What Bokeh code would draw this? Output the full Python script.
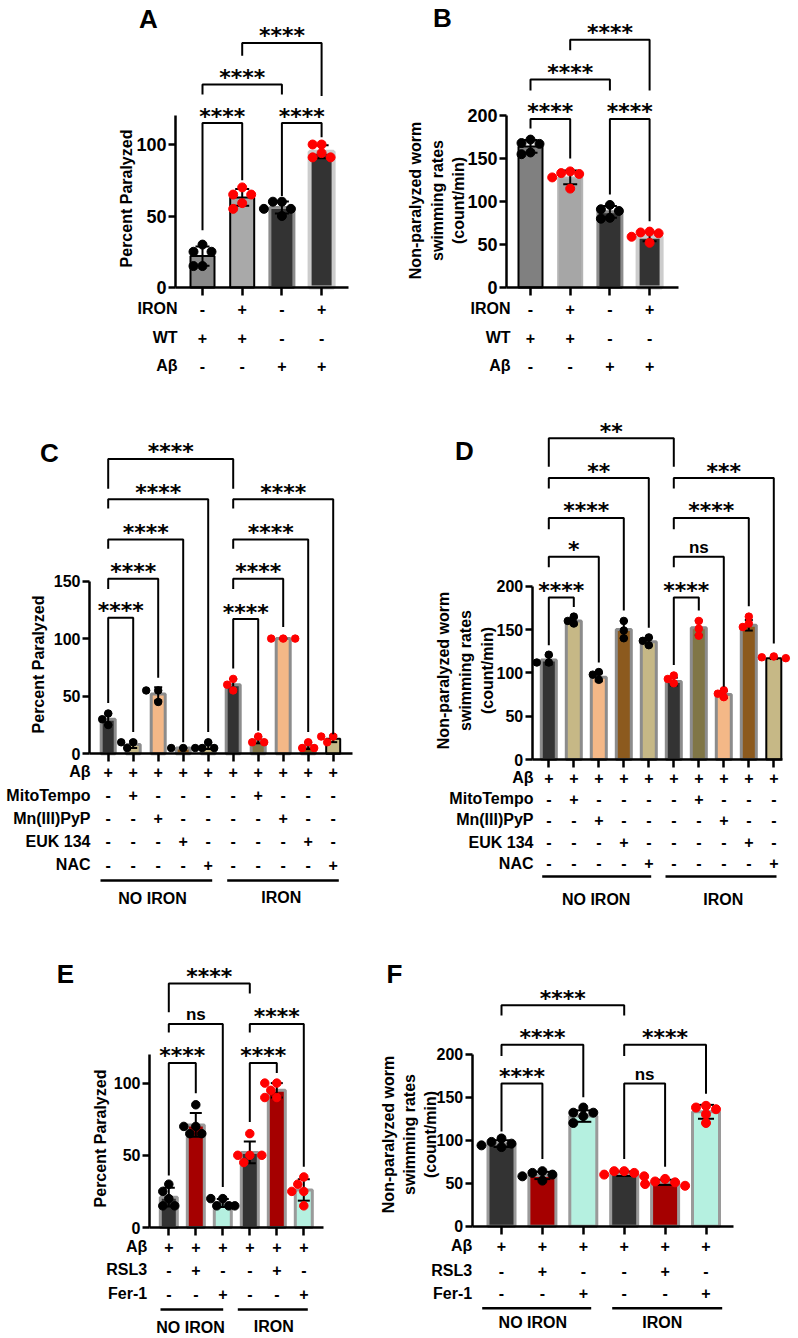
import numpy as np
from bokeh.plotting import figure
from bokeh.models import Range1d, LinearAxis, FixedTicker
from bokeh.layouts import column, row
from bokeh.embed import file_html
from bokeh.resources import INLINE
from bokeh.core.properties import value

FONT = "Liberation Sans"
STAR_FONT = "DejaVu Sans"

# ===================== DATA =====================
# Panel A - Percent Paralyzed
A_means = [22, 63, 56, 95]
A_points = [[30, 25, 25, 15, 15], [70, 65, 65, 59, 55], [60, 60, 55, 55, 50], [100, 100, 94, 91, 91]]
A_dot_colors = ["black", "red", "black", "red"]
A_rows = ["IRON", "WT", "Aβ"]
A_signs = [["-", "+", "-", "+"], ["+", "+", "-", "-"], ["-", "-", "+", "+"]]
A_brackets = [(0, 1, 115, 40, 75, "****"), (2, 3, 115, 64, 105, "****"),
              (0, 2, 142, 135, 135, "****"), (1, 3, 171, 162, 134, "****")]
A_yticks = [0, 50, 100]
A_ylabel = ["Percent Paralyzed"]

# Panel B - swimming rates
B_means = [164, 128, 88, 59]
B_points = [[172, 168, 167, 157, 155], [135, 133, 132, 128, 115], [96, 91, 89, 81, 80], [65, 64, 63, 59, 52]]
B_dot_colors = ["black", "red", "black", "red"]
B_rows = ["IRON", "WT", "Aβ"]
B_signs = [["-", "+", "-", "+"], ["+", "+", "-", "-"], ["-", "-", "+", "+"]]
B_brackets = [(0, 1, 196, 185, 150, "****"), (2, 3, 196, 108, 77, "****"),
              (0, 2, 242, 229, 229, "****"), (1, 3, 288, 276, 229, "****")]
B_yticks = [0, 50, 100, 150, 200]
B_ylabel = ["Non-paralyzed worm", "swimming rates", "(count/min)"]

# Panel C - Percent Paralyzed, antioxidants
C_means = [30, 8, 52, 5, 7, 60, 12, 100, 7, 13]
C_points = [[35, 30, 25], [10, 10, 5], [55, 55, 45], [5, 5, 5], [10, 5, 5],
            [65, 60, 55], [15, 10, 10], [100, 100, 100], [10, 5, 5], [15, 15, 10]]
C_dot_colors = ["black"] * 5 + ["red"] * 5
C_rows = ["Aβ", "MitoTempo", "Mn(III)PyP", "EUK 134", "NAC"]
C_signs = [["+"] * 10,
           ["-", "+", "-", "-", "-", "-", "+", "-", "-", "-"],
           ["-", "-", "+", "-", "-", "-", "-", "+", "-", "-"],
           ["-", "-", "-", "+", "-", "-", "-", "-", "+", "-"],
           ["-", "-", "-", "-", "+", "-", "-", "-", "-", "+"]]
C_brackets = [(0, 1, 118, 44, 19, "****"), (0, 2, 152, 143, 66, "****"), (0, 3, 186, 178, 10, "****"),
              (0, 4, 221, 213, 19, "****"), (0, 5, 256, 230, 230, "****"),
              (5, 6, 117, 74, 20, "****"), (5, 7, 152, 143, 110, "****"), (5, 8, 186, 178, 19, "****"),
              (5, 9, 221, 213, 17, "****")]
C_yticks = [0, 50, 100, 150]
C_groups = ["NO IRON", "IRON"]
C_ylabel = ["Percent Paralyzed"]

# Panel D - swimming rates, antioxidants
D_means = [115, 160, 95, 150, 136, 90, 152, 75, 155, 117]
D_points = [[121, 112, 112], [165, 160, 157], [101, 98, 92], [160, 149, 140], [141, 137, 132],
            [97, 93, 88], [160, 151, 143], [80, 76, 72], [165, 157, 153], [119, 118, 117]]
D_dot_colors = ["black"] * 5 + ["red"] * 5
D_rows = ["Aβ", "MitoTempo", "Mn(III)PyP", "EUK 134", "NAC"]
D_signs = C_signs
D_brackets = [(0, 1, 187, 132, 176, "****"), (0, 2, 234, 222, 112, "*"), (0, 3, 279, 266, 172, "****"),
              (0, 4, 325, 313, 152, "**"), (0, 5, 371, 338, 338, "**"),
              (5, 6, 187, 109, 172, "****"), (5, 7, 234, 222, 84, "ns"), (5, 8, 279, 266, 177, "****"),
              (5, 9, 325, 313, 134, "***")]
D_yticks = [0, 50, 100, 150, 200]
D_groups = ["NO IRON", "IRON"]
D_ylabel = ["Non-paralyzed worm", "swimming rates", "(count/min)"]

# Panel E - Percent Paralyzed, ferroptosis
E_means = [21, 71, 17, 52, 95, 26]
E_points = [[30, 25, 20, 15, 15], [85, 70, 70, 65, 65], [20, 20, 15, 15, 15],
            [65, 50, 50, 50, 45], [100, 100, 95, 90, 90], [35, 30, 25, 25, 15]]
E_dot_colors = ["black"] * 3 + ["red"] * 3
E_rows = ["Aβ", "RSL3", "Fer-1"]
E_signs = [["+"] * 6, ["-", "+", "-", "-", "+", "-"], ["-", "-", "+", "-", "-", "+"]]
E_brackets = [(0, 1, 114, 36, 93, "****"), (0, 2, 141, 135, 28, "ns"), (0, 3, 169, 149, 162, "****"),
              (3, 4, 114, 73, 107, "****"), (3, 5, 141, 135, 42, "****")]
E_yticks = [0, 50, 100]
E_groups = ["NO IRON", "IRON"]
E_ylabel = ["Percent Paralyzed"]

# Panel F - swimming rates, ferroptosis
F_means = [96, 59, 128, 61, 51, 133]
F_points = [[102, 98, 96, 94, 92], [64, 62, 60, 58, 53], [138, 132, 132, 128, 120],
            [64, 64, 62, 60, 58], [55, 52, 51, 49, 47], [140, 138, 136, 130, 120]]
F_dot_colors = ["black"] * 3 + ["red"] * 3
F_rows = ["Aβ", "RSL3", "Fer-1"]
F_signs = E_signs
F_brackets = [(0, 1, 166, 110, 78, "****"), (0, 2, 211, 198, 150, "****"), (0, 3, 257, 245, 245, "****"),
              (3, 4, 166, 78, 69, "ns"), (3, 5, 211, 198, 154, "****")]
F_yticks = [0, 50, 100, 150, 200]
F_groups = ["NO IRON", "IRON"]
F_ylabel = ["Non-paralyzed worm", "swimming rates", "(count/min)"]

# ===================== STYLES =====================
DARK, KHAKI, OLIVE, ORANGE, BROWN = "#333333", "#C6B886", "#807646", "#F4B887", "#8C5A1E"
DRED, MINT = "#A50000", "#B5F0E0"
GREY = "#8c8c8c"
DOT = {"black": "#000000", "red": "#ff0000"}


def swarm_offsets(vals, ky, d, step):
    placed, offs = [], []
    for v in vals:
        y = v * ky
        c = 0
        for c in (0, -step, step, -2 * step, 2 * step):
            if all((c - px) ** 2 + (y - py) ** 2 >= (0.85 * d) ** 2 for px, py in placed):
                break
        placed.append((c, y))
        offs.append(c)
    return offs


def txt(p, x, y, t, size, align="center", baseline="middle", font=FONT, angle=0.0):
    p.text(x=x, y=y, text=t, text_font=value(font), text_font_style="bold",
           text_font_size=size, text_align=align, text_baseline=baseline,
           text_color="#000000", angle=angle)


def make_panel(cfg, means, points, dot_colors, rows, signs, brackets, yticks, ylabel, groups=None):
    x0, dx, y0, ky = cfg["x0"], cfg["dx"], cfg["y0"], cfg["ky"]
    X = lambda px: (px - x0) / dx
    Y = lambda py: (y0 - py) / ky
    L, T, W, H = cfg["left"], cfg["top"], cfg["w"], cfg["h"]
    p = figure(width=W, height=H, x_range=Range1d(X(L), X(L + W)), y_range=Range1d(Y(T + H), Y(T)),
               x_axis_type=None, y_axis_type=None, toolbar_location=None, output_backend="svg",
               min_border=0, outline_line_color=None, title=None)
    n = len(means)
    xs = list(range(n))

    # bars
    p.vbar(x=xs, top=means, bottom=0, width=cfg["bar_px"] / dx,
           fill_color=cfg["fills"], line_color=cfg["lines"], line_width=cfg["lws"])

    # error bars (mean +/- SD)
    sds = [float(np.std(v, ddof=1)) for v in points]
    lo = [m - s for m, s in zip(means, sds)]
    hi = [m + s for m, s in zip(means, sds)]
    cap = cfg["cap_px"] / dx
    p.segment(x0=xs, y0=lo, x1=xs, y1=hi, line_color="black", line_width=2)
    p.segment(x0=[i - cap for i in xs], y0=hi, x1=[i + cap for i in xs], y1=hi, line_color="black", line_width=2)
    p.segment(x0=[i - cap for i in xs], y0=lo, x1=[i + cap for i in xs], y1=lo, line_color="black", line_width=2)

    # individual points
    px_, py_, pc_ = [], [], []
    for i, vals in enumerate(points):
        sv = sorted(vals, reverse=True)
        offs = swarm_offsets(sv, ky, cfg["dot"], cfg["step"])
        for v, o in zip(sv, offs):
            px_.append(i + o / dx)
            py_.append(v)
            pc_.append(DOT[dot_colors[i]])
    p.scatter(px_, py_, size=cfg["dot"], fill_color=pc_, line_color=pc_, marker="circle")

    # axes
    yax = LinearAxis(fixed_location=X(cfg["axis_x"]), bounds=(0, cfg["ytop"]),
                     ticker=FixedTicker(ticks=yticks),
                     axis_line_width=2.5, axis_line_color="black",
                     major_tick_line_width=2.5, major_tick_out=7, major_tick_in=0,
                     minor_tick_out=0, minor_tick_in=0,
                     major_label_text_font=FONT, major_label_text_font_style="bold",
                     major_label_text_font_size=cfg["tick_font"], major_label_standoff=2,
                     major_label_text_color="black")
    p.add_layout(yax, "left")
    xax = LinearAxis(fixed_location=0, bounds=(X(cfg["axis_x"]), X(cfg["axis_x_end"])),
                     ticker=FixedTicker(ticks=xs),
                     major_label_overrides={i: "" for i in xs},
                     axis_line_width=2.5, axis_line_color="black",
                     major_tick_line_width=2.5, major_tick_out=8, major_tick_in=0,
                     minor_tick_out=0, minor_tick_in=0)
    p.add_layout(xax, "below")

    # significance brackets
    bx = [[i, i, j, j] for (i, j, t, l, r, s) in brackets]
    by = [[l, t, t, r] for (i, j, t, l, r, s) in brackets]
    p.multi_line(bx, by, line_color="black", line_width=2)
    for (i, j, t, l, r, s) in brackets:
        if s.startswith("*"):
            txt(p, [(i + j) / 2], [t + 7 / ky], [s], "22px", baseline="alphabetic", font=STAR_FONT)
        else:
            txt(p, [(i + j) / 2], [t + 9 / ky], [s], "17px", baseline="alphabetic")

    # condition rows
    for r, (label, ry) in enumerate(zip(rows, cfg["row_y"])):
        txt(p, xs, [Y(ry)] * n, signs[r], "16px")
        txt(p, [X(cfg["row_right"])], [Y(ry)], [label], "16px", align="right")

    # groups
    if groups:
        for name, (gx1, gx2, gy, cx, cy) in zip(groups, cfg["groups"]):
            p.segment(x0=[X(gx1)], y0=[Y(gy)], x1=[X(gx2)], y1=[Y(gy)], line_color="black", line_width=2.5)
            txt(p, [X(cx)], [Y(cy)], [name], "16px")

    # y label
    for line, lx in zip(ylabel, cfg["ylabel_x"]):
        txt(p, [X(lx)], [Y(cfg["ylabel_y"])], [line], "16px", angle=np.pi / 2)

    # panel letter
    txt(p, [X(cfg["letter_xy"][0])], [Y(cfg["letter_xy"][1])], [cfg["letter"]], "26px")
    return p


cfgA = dict(left=0, top=0, w=399, h=392, x0=202, dx=39.7, y0=287, ky=1.43,
            axis_x=175, axis_x_end=348, ytop=120, tick_font="18px",
            bar_px=24, dot=9, step=9, cap_px=7,
            fills=["#8a8a8a", "#a9a9a9", DARK, DARK], lines=["#000000", "#000000", GREY, "#cccccc"],
            lws=[2, 2, 3, 4],
            row_y=[308, 337, 365], row_right=177,
            ylabel_x=[126], ylabel_y=198, letter="A", letter_xy=(148, 18))
cfgB = dict(left=399, top=0, w=397, h=392, x0=530, dx=39.7, y0=287, ky=0.86,
            axis_x=506, axis_x_end=678, ytop=200, tick_font="18px",
            bar_px=24, dot=9, step=9, cap_px=7,
            fills=["#808080", "#a6a6a6", DARK, DARK], lines=["#000000", "#b4b4b4", GREY, "#cccccc"],
            lws=[2, 2, 3, 4],
            row_y=[308, 337, 365], row_right=510,
            ylabel_x=[415, 436.7, 458.3], ylabel_y=200, letter="B", letter_xy=(442, 17))
cfgC = dict(left=0, top=392, w=399, h=543, x0=107.7, dx=25, y0=753.3, ky=1.152,
            axis_x=89, axis_x_end=352, ytop=150, tick_font="16px",
            bar_px=14, dot=7.5, step=6, cap_px=4,
            fills=[DARK, KHAKI, ORANGE, BROWN, KHAKI, DARK, OLIVE, ORANGE, BROWN, KHAKI],
            lines=[GREY] * 9 + ["#000000"], lws=[3] * 9 + [2],
            row_y=[771, 794.5, 817.5, 840.5, 864], row_right=90,
            groups=[(100, 211.7, 880, 152, 898.3), (226.7, 338.3, 880, 280.7, 896.7)],
            ylabel_x=[38], ylabel_y=664, letter="C", letter_xy=(49, 452.5))
cfgD = dict(left=399, top=392, w=397, h=543, x0=548.3, dx=25, y0=759, ky=0.866,
            axis_x=531.7, axis_x_end=781.7, ytop=200, tick_font="16px",
            bar_px=15, dot=7.5, step=6, cap_px=4,
            fills=[DARK, KHAKI, ORANGE, BROWN, KHAKI, DARK, OLIVE, ORANGE, BROWN, KHAKI],
            lines=[GREY] * 9 + ["#000000"], lws=[3] * 9 + [2],
            row_y=[777, 798.3, 819.3, 841.7, 862.7], row_right=533,
            groups=[(541.7, 650.7, 876, 595.7, 899), (665, 776, 876, 722.7, 899)],
            ylabel_x=[443, 465, 487], ylabel_y=670, letter="D", letter_xy=(464, 450))
cfgE = dict(left=0, top=935, w=380, h=401, x0=168.3, dx=27, y0=1227, ky=1.444,
            axis_x=149, axis_x_end=323.3, ytop=120, tick_font="16px",
            bar_px=17, dot=8.5, step=6, cap_px=6,
            fills=[DARK, DRED, MINT, DARK, DRED, MINT], lines=["#9a9a9a"] * 6, lws=[3] * 6,
            row_y=[1246, 1269.3, 1293.3], row_right=146.7,
            groups=[(160, 222.7, 1309, 190, 1327), (237.3, 307.3, 1309, 273.3, 1326)],
            ylabel_x=[100], ylabel_y=1138, letter="E", letter_xy=(65, 973))
cfgF = dict(left=380, top=935, w=416, h=401, x0=501, dx=40.9, y0=1225.7, ky=0.86,
            axis_x=471.7, axis_x_end=733.3, ytop=200, tick_font="16px",
            bar_px=27, dot=9, step=10, cap_px=8,
            fills=[DARK, DRED, MINT, DARK, DRED, MINT], lines=["#9a9a9a"] * 6, lws=[3] * 6,
            row_y=[1245, 1270, 1292.7], row_right=471.7,
            groups=[(481.7, 590.7, 1307.7, 532.3, 1321.7), (611.7, 721.7, 1307.7, 661.7, 1321.7)],
            ylabel_x=[388, 409, 430], ylabel_y=1134, letter="F", letter_xy=(394, 973))

pA = make_panel(cfgA, A_means, A_points, A_dot_colors, A_rows, A_signs, A_brackets, A_yticks, A_ylabel)
pB = make_panel(cfgB, B_means, B_points, B_dot_colors, B_rows, B_signs, B_brackets, B_yticks, B_ylabel)
pC = make_panel(cfgC, C_means, C_points, C_dot_colors, C_rows, C_signs, C_brackets, C_yticks, C_ylabel, C_groups)
pD = make_panel(cfgD, D_means, D_points, D_dot_colors, D_rows, D_signs, D_brackets, D_yticks, D_ylabel, D_groups)
pE = make_panel(cfgE, E_means, E_points, E_dot_colors, E_rows, E_signs, E_brackets, E_yticks, E_ylabel, E_groups)
pF = make_panel(cfgF, F_means, F_points, F_dot_colors, F_rows, F_signs, F_brackets, F_yticks, F_ylabel, F_groups)

layout = column(row(pA, pB), row(pC, pD), row(pE, pF))
open("out.html", "w").write(file_html(layout, INLINE, "Figure"))
